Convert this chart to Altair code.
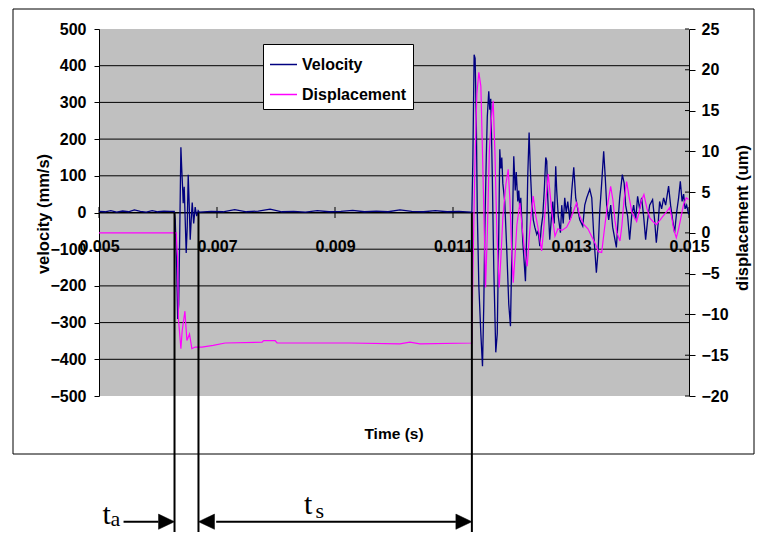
import altair as alt
import pandas as pd

# ---------------- data ----------------
# Velocity (mm/s) vs time (s)
vel_t = [
    0.0050, 0.0051, 0.0052, 0.0053, 0.0054, 0.0055, 0.0056, 0.0057, 0.0058, 0.0059, 0.0060, 0.0061, 0.0062,
    0.006275, 0.006292, 0.006317, 0.006334, 0.006351, 0.006368, 0.006388, 0.006402, 0.006419, 0.006427,
    0.006444, 0.006461, 0.006478, 0.006495, 0.006512, 0.006529, 0.006546, 0.006563, 0.00658, 0.006605,
    0.00663, 0.006656, 0.006681,
    0.0067, 0.0069, 0.0071, 0.0073, 0.0075, 0.0077, 0.0079, 0.0081, 0.0083, 0.0085, 0.0087, 0.0089,
    0.0091, 0.0093, 0.0095, 0.0097, 0.0099, 0.0101, 0.0103, 0.0105, 0.0107, 0.0109, 0.0111, 0.0113,
    0.01132, 0.011337, 0.011358, 0.011375, 0.011395, 0.011412, 0.011438, 0.011472, 0.0115, 0.011522,
    0.011539, 0.011564, 0.011581, 0.011606, 0.011623, 0.01164, 0.011666, 0.011691, 0.011725, 0.01175,
    0.011776, 0.011793, 0.01181, 0.011827, 0.011844, 0.011877, 0.011911, 0.011945, 0.011974, 0.011996,
    0.01203, 0.012055, 0.012072, 0.012098, 0.012115, 0.012132, 0.012149, 0.012183, 0.012228, 0.01225,
    0.012267, 0.01229, 0.01231, 0.012335, 0.012361, 0.012386, 0.01242, 0.012445, 0.012471, 0.012496,
    0.012521, 0.012547, 0.012572, 0.012589, 0.012606, 0.01264, 0.012665, 0.012691, 0.012716, 0.012741,
    0.012758, 0.012784, 0.012821, 0.012843, 0.012868, 0.012894, 0.012919, 0.012945, 0.012979, 0.013013,
    0.013047, 0.01308, 0.013114, 0.013148, 0.013199, 0.013233, 0.013267, 0.013318, 0.013352, 0.013385,
    0.01343, 0.013461, 0.013486, 0.01352, 0.013554, 0.013579, 0.013605, 0.013639, 0.013673, 0.013706,
    0.013769, 0.013799, 0.013825, 0.01387, 0.013901, 0.013926, 0.01396, 0.013994, 0.014028, 0.014062,
    0.014096, 0.014129, 0.014163, 0.014197, 0.014231, 0.014265, 0.014299, 0.014333, 0.014383, 0.014417,
    0.014446, 0.014477, 0.014502, 0.014536, 0.01457, 0.014604, 0.014654, 0.014688, 0.014722, 0.014756,
    0.01479, 0.014824, 0.014853, 0.014883, 0.014909, 0.014934, 0.01496, 0.014994,
]
vel_v = [
    3, 2, 5, 1, 4, 2, 7, 3, 1, 5, 2, 4, 3,
    3, -20, -150, -290, -250, -60, 178, 120, 60, 25,
    70, -20, -110, -40, 103, 20, -74, -20, 27, -30,
    15, -10, 5,
    1, 3, 2, 8, 2, 4, 9, 2, 3, 1, 5, 2,
    3, 6, 2, 4, 2, 7, 3, 2, 5, 2, 3, 1,
    0, 150, 430, 420, 250, 0, -200, -330, -419, -250,
    -50, 150, 260, 330, 280, 310, 100, -150, -381, -330,
    -50, 172, 120, 150, 80, 30, -100, -250, -310, -120,
    153, 60, 110, 30, 60, 10, 40, -80, -187, -50,
    100, 218, 120, 30, -20, -40, -60, -50, -92, -40,
    -10, 60, 150, 140, 40, -74, -20, 30, -30, 126,
    60, -10, -55, 20, -30, 40, 0, 30, -20, 60,
    123, 40, 10, -20, -37, 20, 40, 63, 40, -60,
    -164, -100, 0, 80, 167, 100, 20, -20, 20, -40,
    -95, -20, 40, 103, 80, 20, -10, -74, -10, 20,
    -20, 44, 10, 40, -10, -74, -20, 20, 35, -20,
    -82, -30, 30, 10, 40, 20, 72, 20, -20, -55,
    0, 40, 85, 30, 50, 10, 20, -5,
]

# Displacement (um) vs time (s)
disp_t = [
    0.0050, 0.0060, 0.006309,
    0.006331, 0.006347, 0.006388, 0.00641, 0.006456, 0.00649, 0.006534, 0.006574, 0.00663, 0.006744,
    0.006935, 0.007138, 0.007764, 0.00779, 0.007985, 0.008018, 0.009254, 0.010101, 0.01027, 0.010439,
    0.011311,
    0.01132, 0.011337, 0.01137, 0.011404, 0.011438, 0.011472, 0.011506, 0.011552, 0.011582, 0.011616,
    0.01165, 0.011681, 0.01171, 0.011744, 0.011783, 0.011812, 0.011846, 0.011897, 0.011936, 0.011965,
    0.011994, 0.012021, 0.01205, 0.012083, 0.012134, 0.012168, 0.01221, 0.012258, 0.012287, 0.012321,
    0.01236, 0.012406, 0.012456, 0.012502, 0.012532, 0.012575, 0.012614, 0.012643, 0.012685, 0.012728,
    0.012778, 0.012846, 0.012926, 0.012982, 0.013033, 0.013095, 0.013151, 0.013219, 0.013287, 0.013355,
    0.013423, 0.013465, 0.01352, 0.013559, 0.01361, 0.013672, 0.013711, 0.013745, 0.013779, 0.01383,
    0.013864, 0.013898, 0.013943, 0.013982, 0.014033, 0.014113, 0.014152, 0.014194, 0.014236, 0.014287,
    0.014338, 0.014389, 0.014446, 0.014502, 0.014553, 0.014612, 0.014671, 0.014705, 0.014739, 0.014785,
    0.014824, 0.014866, 0.014908, 0.014953, 0.014992,
]
disp_d = [
    0, 0, 0,
    -3, -10.6, -14.2, -12, -9.6, -13.2, -12.4, -14.2, -14.0, -14.0,
    -13.8, -13.5, -13.4, -13.2, -13.2, -13.5, -13.5, -13.6, -13.4, -13.6,
    -13.5,
    -13.5, -5, 8, 17, 19.7, 18, 8, -6.7, 0, 10,
    14, 16.2, 10, 0, -6.7, -3, 2, 6, 7.8, 4,
    -2, -6.1, -3, 1, 3.7, 1, -2, -4.1, -1, 2,
    4.5, 2, 0, -2.2, 0, 4, 7.2, 5, 2, -0.4,
    0.5, 0.3, 0.7, 1.5, 2.5, 3.7, 2, 1, 0.5, -0.5,
    -1.5, -2.3, -2.4, 0, 3, 5.7, 4, 1.5, 0, -1,
    1, 4, 6.3, 4.5, 2.5, 1.4, 2.5, 4, 4.7, 3,
    1.8, 1.4, 1.0, 1.5, 2, 2.5, 3.1, 2, 0.5, -0.6,
    0.5, 2, 3.5, 4.3, 4.1,
]

x_ticks = [0.005, 0.007, 0.009, 0.011, 0.013, 0.015]
v_ticks = [500, 400, 300, 200, 100, 0, -100, -200, -300, -400, -500]
d_ticks = [25, 20, 15, 10, 5, 0, -5, -10, -15, -20]
grid_vals = [400, 300, 200, 100, 0, -100, -200, -300, -400]
series_names = ["Velocity", "Displacement"]
series_colors = ["#000080", "#FF00FF"]

# annotation times: end of t_a / start of t_s / end of t_s
marker_t = [0.00628, 0.006686, 0.01132]
shaft_start = [0.005416, 0.006986]
shaft_end = [0.006009, 0.011049]
head_right_t = [0.00628, 0.01132]
head_left_t = [0.006686]

# ---------------- chart ----------------
SANS = "Liberation Sans, Arial"
SERIF = "Liberation Serif, Times New Roman"
W, H = 590, 367

vel_df = pd.DataFrame({"t": vel_t, "v": vel_v, "series": "Velocity"})
disp_df = pd.DataFrame({"t": disp_t, "d": disp_d, "series": "Displacement"})
grid_df = pd.DataFrame({"g": grid_vals})
xtick_df = pd.DataFrame({"t": x_ticks, "lo": [-15] * len(x_ticks), "hi": [15] * len(x_ticks)})
dtick_df = pd.DataFrame({"d": d_ticks})
marker_df = pd.DataFrame({"t": marker_t, "v0": [0] * len(marker_t)})
shaft_df = pd.DataFrame({"a": shaft_start, "b": shaft_end})
hr_df = pd.DataFrame({"t": head_right_t})
hl_df = pd.DataFrame({"t": head_left_t})
one = pd.DataFrame({"k": [0]})

xscale = alt.Scale(domain=[0.005, 0.015], nice=False, zero=False)
vscale = alt.Scale(domain=[-500, 500], nice=False, zero=False)
dscale = alt.Scale(domain=[-20, 25], nice=False, zero=False)

LBL = dict(labelFont=SANS, labelFontSize=16, labelFontWeight="bold", labelColor="black",
           labelOverlap=False, labelBound=False, labelFlush=False)
xaxis = alt.Axis(values=x_ticks, format=".3f", title=None, offset=-183.5, ticks=False, tickSize=0,
                 domainColor="black", domainWidth=1, labelPadding=26, grid=False, **LBL)
vaxis = alt.Axis(values=v_ticks, title=None, orient="left", grid=False, domainColor="black", domainWidth=1,
                 tickColor="black", tickSize=5, labelPadding=8, **LBL)
daxis = alt.Axis(values=d_ticks, title=None, orient="right", grid=False, domainColor="black", domainWidth=1,
                 tickColor="black", tickSize=6, labelPadding=6, **LBL)
legend = alt.Legend(orient="none", legendX=164, legendY=15, direction="vertical", title=None,
                    fillColor="white", strokeColor="black", padding=6, rowPadding=7,
                    symbolType="stroke", symbolSize=729, symbolStrokeWidth=1.5, labelOffset=4,
                    labelFont=SANS, labelFontSize=16, labelFontWeight="bold", labelColor="black")
color = alt.Color("series:N", scale=alt.Scale(domain=series_names, range=series_colors), legend=legend)


def X(field):
    return alt.X(field, type="quantitative", scale=xscale, axis=xaxis)


def VY(field):
    return alt.Y(field, type="quantitative", scale=vscale, axis=None)


frame = alt.Chart(one).mark_rect(fill="white", fillOpacity=0, stroke="black", strokeWidth=1).encode(
    x=alt.value(-86), x2=alt.value(655), y=alt.value(-20), y2=alt.value(425))

grid = alt.Chart(grid_df).mark_rule(color="black", strokeWidth=1).encode(y=VY("g"))

xticks = alt.Chart(xtick_df).mark_rule(color="black", strokeWidth=1).encode(
    x=X("t"), y=VY("lo"), y2="hi")

dticks_in = alt.Chart(dtick_df).mark_rule(color="black", strokeWidth=1).encode(
    y=alt.Y("d", type="quantitative", scale=dscale, axis=None), x=alt.value(W - 4), x2=alt.value(W))

vel_line = alt.Chart(vel_df).mark_line(strokeWidth=1.3).encode(
    x=X("t"),
    y=alt.Y("v", type="quantitative", scale=vscale, axis=vaxis),
    color=color, order="t:Q")

disp_line = alt.Chart(disp_df).mark_line(strokeWidth=1.2).encode(
    x=X("t"),
    y=alt.Y("d", type="quantitative", scale=dscale, axis=daxis),
    color=color, order="t:Q")

markers = alt.Chart(marker_df).mark_rule(color="black", strokeWidth=2).encode(
    x=X("t"), y=VY("v0"), y2=alt.value(503))

shafts = alt.Chart(shaft_df).mark_rule(color="black", strokeWidth=2).encode(
    x=X("a"), x2="b", y=alt.value(492.7))

heads_r = alt.Chart(hr_df).mark_point(shape="M0,0L-2,-0.95L-2,0.95Z", filled=True, fill="black",
                                      stroke="black", strokeWidth=0.5, opacity=1, size=256).encode(
    x=X("t"), y=alt.value(492.7))
heads_l = alt.Chart(hl_df).mark_point(shape="M0,0L2,-0.95L2,0.95Z", filled=True, fill="black",
                                      stroke="black", strokeWidth=0.5, opacity=1, size=256).encode(
    x=X("t"), y=alt.value(492.7))


def txt(text, x, y, font, size, weight="normal", angle=0, align="center", baseline="middle"):
    return alt.Chart(one).mark_text(text=text, font=font, fontSize=size, fontWeight=weight, angle=angle,
                                    align=align, baseline=baseline, color="black").encode(
        x=alt.value(x), y=alt.value(y))


time_title = txt("Time (s)", 295, 405, SANS, 15.5, "bold")
vel_title = txt("velocity (mm/s)", -55, 185, SANS, 16.5, "bold", angle=270)
disp_title = txt("displacement (um)", 643.5, 189, SANS, 16.5, "bold", angle=270)
ta_t = txt("t", 3.5, 494.5, SERIF, 30, align="left", baseline="alphabetic")
ta_a = txt("a", 11.5, 497, SERIF, 22, align="left", baseline="alphabetic")
ts_t = txt("t", 205, 485, SERIF, 30, align="left", baseline="alphabetic")
ts_s = txt("s", 216.5, 488.5, SERIF, 22, align="left", baseline="alphabetic")

chart = alt.layer(
    frame, grid, xticks, dticks_in, vel_line, disp_line, markers, shafts, heads_r, heads_l,
    time_title, vel_title, disp_title, ta_t, ta_a, ts_t, ts_s,
).resolve_scale(y="independent").properties(
    width=W, height=H,
    autosize=alt.AutoSizeParams(type="none"),
    padding={"left": 91, "top": 21, "right": 67, "bottom": 136},
    background="white",
).configure_view(fill="#C0C0C0", strokeWidth=0)

chart.save("out.html", embed_options={"renderer": "svg", "actions": False})
